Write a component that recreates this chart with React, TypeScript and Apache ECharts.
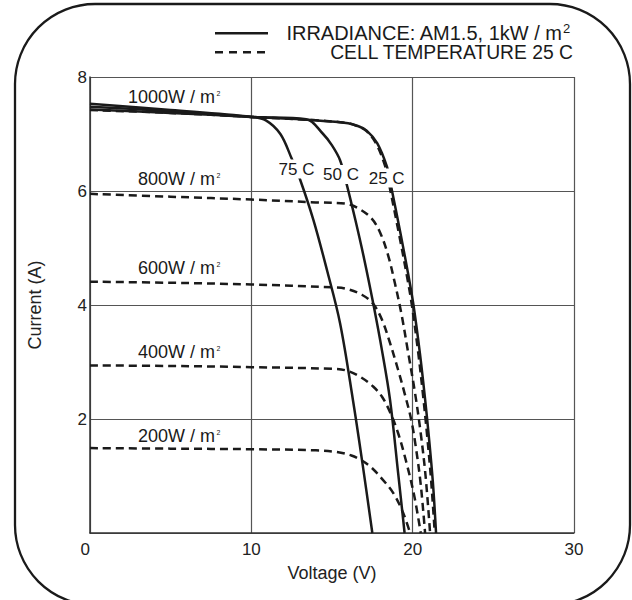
import React, { useEffect, useRef } from 'react';
import * as echarts from 'echarts';

const FONT = "'Liberation Sans', Arial, Helvetica, sans-serif";
const INK = '#1a1a1a';

// Axis ticks
const xTicks = [0, 10, 20, 30];
const yTicks = [0, 2, 4, 6, 8];

// 1000 W/m² curves at different cell temperatures (solid)
const v75 = [0, 5, 10, 10.9, 11.8, 12.5, 13.0, 13.85, 14.7, 15.5, 16.3, 16.9, 17.5];
const i75 = [7.53, 7.42, 7.3, 7.24, 7.0, 6.57, 6.22, 5.49, 4.6, 3.68, 2.33, 1.2, 0];

const v50 = [0, 5, 10, 13.4, 14.45, 15.0, 15.5, 15.9, 16.45, 17.0, 17.56, 18.1, 18.6, 19.1, 19.5];
const i50 = [7.48, 7.4, 7.3, 7.26, 7.0, 6.8, 6.54, 6.13, 5.49, 4.8, 4.02, 3.2, 2.33, 1.05, 0];

const v25 = [0, 5, 10, 14, 16, 16.6, 17.15, 17.8, 18.4, 18.65, 19.25, 19.75, 20.05, 20.45, 20.75, 21.0, 21.25, 21.45];
const i25 = [7.43, 7.37, 7.3, 7.24, 7.19, 7.14, 7.06, 6.84, 6.43, 6.1, 5.25, 4.5, 4.0, 3.15, 2.4, 1.7, 0.9, 0];

// 25 C curves at different irradiances (dashed)
const vG1000 = [0, 5, 10, 14, 16, 16.55, 17.1, 17.72, 18.3, 18.55, 19.15, 19.65, 19.95, 20.35, 20.65, 20.9, 21.15, 21.37];
const iG1000 = [7.42, 7.37, 7.3, 7.24, 7.19, 7.14, 7.06, 6.84, 6.43, 6.1, 5.25, 4.5, 4.0, 3.15, 2.4, 1.7, 0.9, 0];

const vG800 = [0, 5, 10, 14, 15.8, 16.6, 17.45, 18.0, 18.5, 18.9, 19.3, 19.7, 20.15, 20.5, 20.8, 21.08];
const iG800 = [5.95, 5.9, 5.85, 5.8, 5.78, 5.7, 5.52, 5.26, 4.85, 4.38, 3.85, 3.2, 2.45, 1.75, 1.0, 0];

const vG600 = [0, 5, 10, 15, 15.8, 16.85, 17.55, 18.1, 18.6, 19.1, 19.5, 19.9, 20.2, 20.5, 20.77];
const iG600 = [4.41, 4.39, 4.36, 4.31, 4.29, 4.18, 4.02, 3.74, 3.33, 2.86, 2.45, 2.0, 1.5, 0.85, 0];

const vG400 = [0, 5, 10, 15, 15.9, 16.75, 17.55, 18.1, 18.6, 19.1, 19.6, 20.1, 20.5];
const iG400 = [2.94, 2.93, 2.91, 2.88, 2.85, 2.74, 2.57, 2.39, 2.12, 1.75, 1.25, 0.65, 0];

const vG200 = [0, 5, 10, 14, 15.3, 16.2, 16.8, 17.4, 18.1, 18.8, 19.4, 19.84];
const iG200 = [1.49, 1.48, 1.47, 1.45, 1.42, 1.36, 1.28, 1.16, 0.95, 0.7, 0.36, 0];

const irradianceLabels = ['1000W / m', '800W / m', '600W / m', '400W / m', '200W / m'];
const tempLabels = ['75 C', '50 C', '25 C'];
const legendTexts = ['IRRADIANCE: AM1.5, 1kW / m', 'CELL TEMPERATURE 25 C'];

const zip = (v: number[], i: number[]) => v.map((x, k) => [x, i[k]]);

export default function App() {
  const ref = useRef<HTMLDivElement>(null);

  useEffect(() => {
    const chart = echarts.init(ref.current!, null, { renderer: 'svg' });

    const solid = (name: string, v: number[], i: number[]) => ({
      name,
      type: 'line',
      data: zip(v, i),
      smooth: 0.35,
      symbol: 'none',
      lineStyle: { color: INK, width: 2.5, type: 'solid' },
      z: 3,
    });
    const dashed = (name: string, v: number[], i: number[]) => ({
      name,
      type: 'line',
      data: zip(v, i),
      smooth: 0.35,
      symbol: 'none',
      lineStyle: { color: INK, width: 2.5, type: [8, 5] },
      z: 2,
    });

    const labelY = [97, 179, 268, 352, 436];
    const tempPos = [
      [296.5, 169],
      [341, 174.5],
      [386.7, 178],
    ];

    const graphics: any[] = [
      {
        type: 'rect',
        shape: { x: 15, y: 4, width: 615, height: 601, r: 80 },
        style: { fill: 'none', stroke: INK, lineWidth: 2.3 },
        silent: true,
        z: 0,
      },
      // legend
      {
        type: 'line',
        shape: { x1: 215, y1: 33.3, x2: 268, y2: 33.3 },
        style: { stroke: INK, lineWidth: 2.5 },
        z: 50,
      },
      {
        type: 'line',
        shape: { x1: 215, y1: 52.3, x2: 268, y2: 52.3 },
        style: { stroke: INK, lineWidth: 2.5, lineDash: [8, 6] },
        z: 50,
      },
      {
        type: 'text',
        style: {
          x: 562,
          y: 33,
          text: legendTexts[0],
          fill: INK,
          font: `20px ${FONT}`,
          textAlign: 'right',
          textVerticalAlign: 'middle',
          verticalAlign: 'middle',
        },
        z: 50,
      },
      {
        type: 'text',
        style: {
          x: 563,
          y: 28,
          text: '2',
          fill: INK,
          font: `13px ${FONT}`,
          textAlign: 'left',
          textVerticalAlign: 'middle',
          verticalAlign: 'middle',
        },
        z: 50,
      },
      {
        type: 'text',
        style: {
          x: 573,
          y: 52.7,
          text: legendTexts[1],
          fill: INK,
          font: `19.3px ${FONT}`,
          textAlign: 'right',
          textVerticalAlign: 'middle',
          verticalAlign: 'middle',
        },
        z: 50,
      },
    ];

    irradianceLabels.forEach((t, k) => {
      graphics.push({
        type: 'text',
        style: {
          x: 215,
          y: labelY[k],
          text: t,
          fill: INK,
          font: `18px ${FONT}`,
          textAlign: 'right',
          textVerticalAlign: 'middle',
          verticalAlign: 'middle',
        },
        z: 50,
      });
      graphics.push({
        type: 'text',
        style: {
          x: 216.5,
          y: labelY[k] - 3.5,
          text: '2',
          fill: INK,
          font: `7px ${FONT}`,
          textAlign: 'left',
          textVerticalAlign: 'middle',
          verticalAlign: 'middle',
        },
        z: 50,
      });
    });

    tempLabels.forEach((t, k) => {
      graphics.push({
        type: 'text',
        style: {
          x: tempPos[k][0],
          y: tempPos[k][1],
          text: t,
          fill: INK,
          font: `17px ${FONT}`,
          textAlign: 'center',
          textVerticalAlign: 'middle',
          verticalAlign: 'middle',
          backgroundColor: '#fff',
          padding: [1, 2],
        },
        z: 50,
      });
    });

    chart.setOption({
      animation: false,
      backgroundColor: '#fff',
      textStyle: { fontFamily: FONT },
      grid: { left: 90, right: 58, top: 77, bottom: 67, containLabel: false },
      xAxis: {
        type: 'value',
        min: xTicks[0],
        max: xTicks[xTicks.length - 1],
        interval: 10,
        name: 'Voltage (V)',
        nameLocation: 'middle',
        nameGap: 31,
        nameTextStyle: { fontSize: 18, color: '#222', fontFamily: FONT },
        axisLine: { show: true, lineStyle: { color: '#333', width: 1.5 } },
        axisTick: { show: false },
        axisLabel: {
          fontSize: 17,
          color: '#222',
          margin: 8,
          fontFamily: FONT,
          alignMinLabel: 'right',
        },
        splitLine: { show: true, lineStyle: { color: '#555', width: 1.2 } },
      },
      yAxis: {
        type: 'value',
        min: yTicks[0],
        max: yTicks[yTicks.length - 1],
        interval: 2,
        name: 'Current (A)',
        nameLocation: 'middle',
        nameGap: 46,
        nameTextStyle: { fontSize: 18, color: '#222', fontFamily: FONT },
        axisLine: { show: true, lineStyle: { color: '#333', width: 1.5 } },
        axisTick: { show: false },
        axisLabel: {
          fontSize: 17,
          color: '#222',
          margin: 3,
          fontFamily: FONT,
          showMinLabel: false,
          verticalAlign: 'middle',
          padding: [0, 0, 13, 0],
        },
        splitLine: { show: true, lineStyle: { color: '#555', width: 1.2 } },
      },
      series: [
        dashed('200W', vG200, iG200),
        dashed('400W', vG400, iG400),
        dashed('600W', vG600, iG600),
        dashed('800W', vG800, iG800),
        dashed('1000W', vG1000, iG1000),
        solid('75 C', v75, i75),
        solid('50 C', v50, i50),
        solid('25 C', v25, i25),
      ],
      graphic: graphics,
    });

    return () => chart.dispose();
  }, []);

  return (
    <div
      ref={ref}
      style={{ position: 'fixed', left: 0, top: 0, width: 632, height: 600 }}
    />
  );
}
